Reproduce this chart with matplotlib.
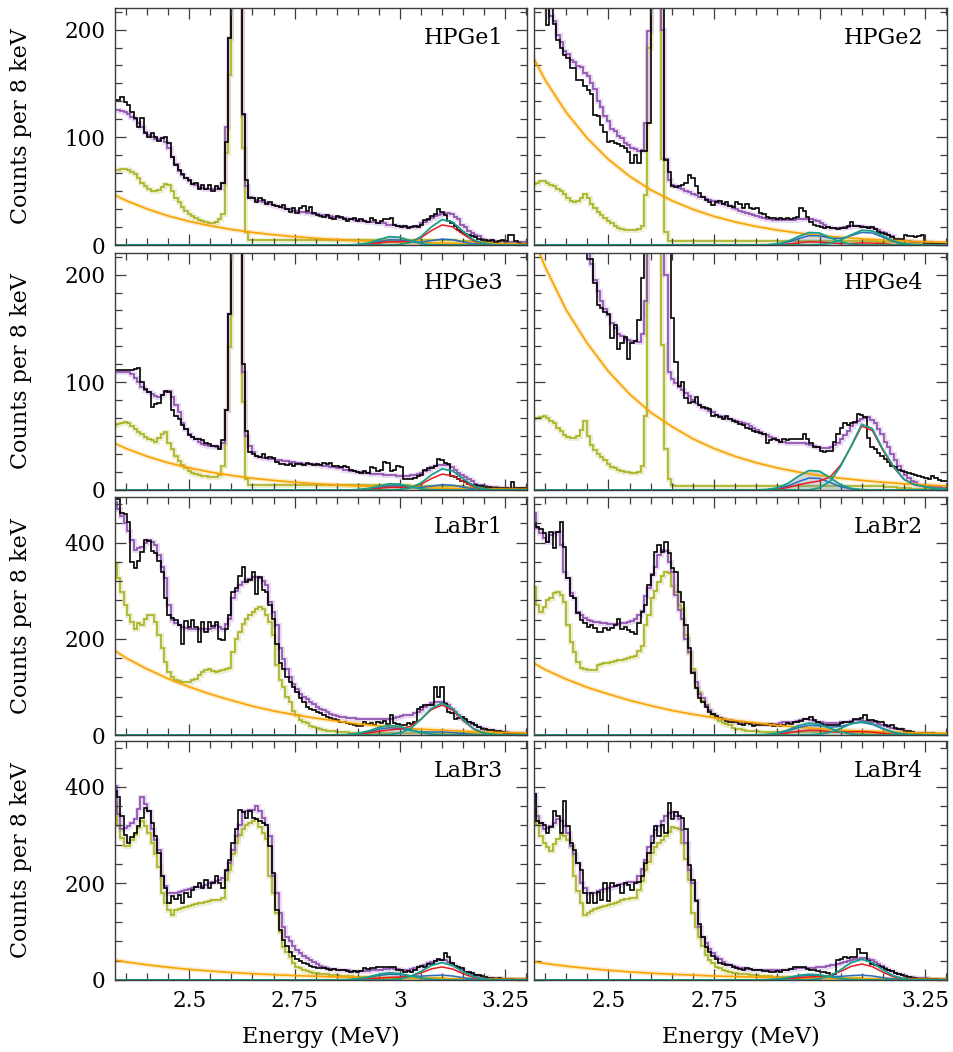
import numpy as np
import matplotlib
matplotlib.use("Agg")
import matplotlib.pyplot as plt
from matplotlib.ticker import MultipleLocator, FuncFormatter

# ---- binning (MeV) ----
EDGES = np.round(np.arange(2.320, 3.3045, 0.008), 3)             # 8 keV bins, 123 bins
BKG_E = np.round(np.arange(2.30, 3.3001, 0.05), 2)               # exponential background, 21 pts
PK_E = np.r_[2.30, np.round(np.arange(2.85, 3.3251, 0.025), 3)]  # peak components, 21 pts

# ---------------- HPGe1 ----------------
HPGE1_DATA = [
    135, 135, 137, 133, 130, 123, 118, 110, 118, 104,
    100, 104, 100, 97, 99, 100, 95, 82, 74, 70,
    66, 62, 60, 57, 58, 52, 56, 52, 56, 50,
    55, 52, 58, 96, 192, 800, 1500, 600, 122, 60,
    44, 44, 40, 44, 42, 38, 40, 37, 36, 35,
    37, 33, 31, 34, 30, 34, 36, 32, 35, 30,
    28, 27, 26, 28, 25, 24, 27, 26, 24, 22,
    24, 25, 22, 24, 22, 21, 25, 23, 20, 22,
    24, 24, 25, 19, 18, 17, 18, 16, 17, 18,
    17, 19, 23, 24, 27, 29, 33, 31, 28, 22,
    20, 18, 14, 12, 10, 9, 8, 7, 6, 5,
    5, 4, 5, 3, 4, 5, 4, 9, 9, 4,
    2, 1, 1]
HPGE1_FIT = [
    125, 125, 124, 123, 122, 119, 117, 113, 110, 105,
    102, 100, 98, 98, 99, 96, 90, 82, 75, 69,
    65, 62, 59, 57, 56, 54, 53, 52, 52, 52,
    52, 53, 58, 110, 192, 2000, 2000, 600, 121, 55,
    45, 44, 42, 41, 40, 39, 38, 37, 36, 35,
    34, 33, 33, 32, 32, 31, 31, 30, 30, 29,
    29, 28, 28, 27, 27, 26, 26, 25, 25, 24,
    24, 23, 23, 22, 22, 21, 21, 21, 20, 20,
    20, 19, 19, 19, 18, 18, 17, 17, 17, 17,
    18, 20, 21, 23, 25, 27, 28, 29, 30, 30,
    29, 26, 24, 19, 17, 13, 11, 9, 8, 6,
    5, 5, 4, 4, 3.5, 3.5, 3, 3, 3, 3,
    2.5, 2.5, 2.5]
HPGE1_COMP = [
    70, 70, 71, 71, 70, 68, 66, 62, 58, 55,
    52, 50, 50, 51, 54, 57, 56, 50, 44, 40,
    35, 32, 29, 27, 25, 23, 22, 21, 20, 20,
    21, 24, 29, 85, 158, 2000, 2000, 600, 90, 12,
    5, 5, 5, 5, 5, 5, 5, 5, 4.5, 4.5,
    4.5, 4.5, 4.5, 4.5, 4.5, 4.5, 4.5, 4.5, 4.5, 4.5,
    4.5, 4.5, 4.5, 4.5, 4.5, 4.5, 4.5, 4.5, 4.5, 4.5,
    4.5, 4.5, 4.5, 4.5, 4.5, 4.5, 4.5, 4.5, 4.5, 4.5,
    4.5, 4.5, 4.5, 4.5, 4.5, 4.5, 4.5, 4.5, 4.5, 4.5,
    4.5, 4.5, 4.5, 4.5, 4.5, 4.5, 4.5, 4.5, 4.5, 4.5,
    4.5, 4.5, 4, 4, 4, 3.5, 3.5, 3, 3, 2.5,
    2.5, 2, 2, 1.5, 1.5, 1.2, 1, 0.9, 0.8, 0.7,
    0.6, 0.5, 0.5]
HPGE1_BKG = [50.8, 41.2, 33.4, 27.0, 21.9, 17.8, 14.4, 11.7, 9.5, 7.7, 6.2,
             5.0, 4.1, 3.3, 2.7, 2.2, 1.8, 1.4, 1.2, 0.9, 0.8]
HPGE1_TEAL_LO = [0, 0, 0.06, 0.45, 1.9, 5.0, 7.7, 7.2, 4.0, 1.3, 0.3, 0.04, 0, 0, 0, 0, 0, 0, 0, 0, 0]
HPGE1_TEAL_HI = [0, 0, 0, 0, 0, 0, 0, 0.45, 2.3, 7.8, 16.8, 23.6, 21.4, 12.7, 4.8, 1.2, 0.2, 0.02, 0, 0, 0]
HPGE1_RED = [0, 0, 0.02, 0.17, 0.72, 1.86, 2.88, 3.06, 3.34, 6.69, 13.4, 18.6, 16.9, 10.1, 3.8, 0.95, 0.15, 0, 0, 0, 0]
HPGE1_BLUE = [0, 0, 0.04, 0.28, 1.2, 3.1, 4.8, 4.6, 3.0, 2.6, 4.05, 5.4, 4.9, 2.9, 1.1, 0.3, 0.04, 0, 0, 0, 0]

# ---------------- HPGe2 ----------------
HPGE2_DATA = [
    260, 260, 250, 240, 204, 240, 205, 190, 183, 176,
    174, 164, 164, 153, 153, 148, 144, 140, 121, 120,
    111, 105, 96, 97, 95, 94, 92, 90, 86, 76,
    84, 76, 87, 87, 113, 800, 1500, 700, 300, 79,
    68, 55, 54, 55, 56, 58, 65, 62, 55, 48,
    45, 42, 40, 37, 40, 41, 38, 40, 36, 35,
    40, 38, 34, 38, 34, 33, 34, 30, 29, 26,
    25, 25, 24, 25, 24, 25, 24, 25, 26, 34,
    32, 26, 21, 19, 18, 17, 16, 17, 16, 16,
    15, 16, 16, 18, 21, 18, 18, 17, 17, 16,
    17, 15, 12, 11, 10, 9, 7, 6, 6, 6,
    9, 8, 8, 7, 8, 9, 1, 1, 1, 1,
    1, 1, 1]
HPGE2_FIT = [
    242, 238, 236, 230, 225, 213, 208, 195, 188, 180,
    177, 172, 170, 166, 165, 160, 157, 150, 145, 134,
    128, 120, 115, 108, 106, 101, 99, 95, 93, 90,
    89, 87, 88, 113, 199, 2000, 2000, 700, 200, 80,
    60, 56, 55, 53, 52, 50, 49, 47, 46, 45,
    45, 43, 42, 41, 41, 39, 38, 37, 36, 34,
    33, 32, 31, 30, 29, 28, 27, 26, 25, 24,
    24, 23, 23, 23, 23, 23, 23, 23, 24, 24,
    24, 24, 24, 23, 22, 20, 19, 17, 16, 16,
    16, 16, 17, 17, 18, 18, 18, 18, 17, 17,
    16, 15, 14, 12, 11, 9, 8, 6, 5, 4.5,
    4, 3.5, 3, 3, 3, 3, 2.5, 2.5, 2, 2,
    2, 2, 2]
HPGE2_COMP = [
    57, 58, 59, 59, 58, 56, 55, 52, 50, 47,
    44, 41, 40, 41, 44, 47, 44, 38, 34, 31,
    28, 25, 22, 20, 18, 16, 15, 14, 14, 14,
    14, 15, 18, 46, 183, 2000, 2000, 600, 80, 12,
    4, 3.5, 3.5, 3.5, 3.5, 3.5, 3.5, 3.5, 3.5, 3.5,
    3.5, 3.5, 3.5, 3.5, 3.5, 3.5, 3.5, 3.5, 3.5, 3.5,
    3.5, 3.5, 3.5, 3.5, 3.5, 3.5, 3.5, 3.5, 3.5, 3.5,
    3.5, 3.5, 3.5, 3.5, 3.5, 3.5, 3.5, 3.5, 3.5, 3.5,
    3.5, 3.5, 3.5, 3.5, 3.5, 3.5, 3.5, 3.5, 3.5, 3.5,
    3.5, 3.5, 3.5, 3.5, 3.5, 3.5, 3.5, 3.5, 3.5, 3.5,
    3.5, 3.5, 3, 3, 3, 3, 2.5, 2.5, 2, 2,
    2, 2, 1.5, 1.5, 1.2, 1, 0.9, 0.8, 0.7, 0.6,
    0.5, 0.5, 0.4]
HPGE2_BKG = [190.6, 153, 123, 98.9, 79.4, 63.8, 51.2, 41.2, 33.1, 26.6, 21.4,
             17.2, 13.8, 11.1, 8.9, 7.1, 5.7, 4.6, 3.7, 3.0, 2.4]
HPGE2_TEAL_LO = [0, 0.02, 0.18, 1.0, 3.4, 7.9, 11.6, 11.1, 6.9, 2.8, 0.7, 0.1, 0, 0, 0, 0, 0, 0, 0, 0, 0]
HPGE2_TEAL_HI = [0, 0, 0, 0, 0, 0, 0.05, 0.3, 1.5, 4.5, 9.5, 13.6, 13.0, 8.5, 3.7, 1.1, 0.2, 0, 0, 0, 0]
HPGE2_RED = [0, 0, 0.05, 0.25, 0.85, 2.0, 2.9, 2.8, 1.9, 1.3, 1.5, 1.9, 1.8, 1.2, 0.5, 0.15, 0, 0, 0, 0, 0]
HPGE2_BLUE = [0, 0, 0.14, 0.75, 2.6, 5.9, 8.7, 8.6, 6.5, 6.0, 8.7, 11.7, 11.1, 7.3, 3.2, 0.9, 0.2, 0, 0, 0, 0]

# ---------------- HPGe3 ----------------
HPGE3_DATA = [
    111, 111, 111, 111, 111, 111, 112, 113, 100, 94,
    91, 77, 80, 81, 88, 92, 91, 74, 69, 66,
    60, 57, 51, 49, 47, 47, 46, 44, 43, 41,
    41, 38, 46, 74, 163, 900, 1500, 700, 117, 55,
    35, 33, 32, 31, 33, 30, 31, 30, 26, 24,
    24, 23, 24, 22, 24, 24, 23, 25, 24, 23,
    24, 23, 25, 24, 25, 22, 22, 21, 22, 21,
    19, 18, 17, 16, 18, 16, 21, 20, 18, 19,
    26, 25, 18, 19, 22, 21, 10, 10, 10, 11,
    13, 14, 19, 20, 20, 22, 29, 28, 25, 24,
    13, 12, 10, 8, 7, 6, 5, 5, 4, 4,
    3, 3, 2, 2, 2, 2, 2, 1, 7, 2,
    2, 2, 2]
HPGE3_FIT = [
    110, 110, 110, 110, 110, 108, 104, 100, 96, 93,
    91, 89, 87, 86, 88, 91, 92, 86, 79, 72,
    62, 57, 52, 49, 47, 45, 43, 42, 41, 41,
    40, 40, 44, 74, 163, 2000, 2000, 600, 110, 50,
    41, 35, 32, 31, 30, 30, 29, 29, 28, 28,
    27, 27, 26, 26, 25, 25, 24, 24, 24, 24,
    23, 23, 22, 22, 21, 21, 20, 20, 19, 19,
    18, 18, 17, 17, 16, 16, 15, 15, 15, 15,
    14, 14, 14, 14, 13, 13, 13, 13, 14, 14,
    15, 16, 18, 19, 21, 22, 23, 23, 23, 23,
    21, 19, 16, 14, 12, 10, 8, 6, 5, 4.5,
    4, 3, 2.5, 2.5, 2, 2, 2, 2, 1.5, 1.5,
    1.5, 1.5, 1.5]
HPGE3_COMP = [
    60, 61, 62, 63, 62, 59, 57, 54, 52, 49,
    47, 46, 45, 48, 52, 54, 44, 38, 32, 27,
    23, 20, 18, 16, 15, 14, 13, 13, 12, 12,
    12, 14, 22, 74, 133, 2000, 2000, 600, 82, 10,
    5, 5, 4.5, 4.5, 4.5, 4.5, 4.5, 4.5, 4.5, 4.5,
    4.5, 4.5, 4.5, 4.5, 4.5, 4.5, 4.5, 4.5, 4.5, 4.5,
    4.5, 4.5, 4.5, 4.5, 4.5, 4.5, 4.5, 4.5, 4.5, 4.5,
    4.5, 4.5, 4.5, 4.5, 4.5, 4.5, 4.5, 4.5, 4.5, 4.5,
    4.5, 4.5, 4.5, 4.5, 4.5, 4.5, 4.5, 4.5, 4, 4,
    4, 4, 4, 4, 4, 4, 4, 4, 4, 4,
    4, 4, 3.5, 3.5, 3, 3, 2.5, 2.5, 2, 2,
    1.5, 1.5, 1.2, 1.2, 1, 1, 0.8, 0.8, 0.7, 0.7,
    0.6, 0.5, 0.5]
HPGE3_BKG = [47.5, 38.5, 31.2, 25.2, 20.5, 16.6, 13.5, 10.9, 8.9, 7.2, 5.8,
             4.7, 3.8, 3.1, 2.5, 2.1, 1.7, 1.3, 1.1, 0.8, 0.7]
HPGE3_TEAL_LO = [0, 0, 0.05, 0.34, 1.4, 3.7, 5.8, 5.4, 3.0, 1.0, 0.24, 0.03, 0, 0, 0, 0, 0, 0, 0, 0, 0]
HPGE3_TEAL_HI = [0, 0, 0, 0, 0, 0, 0, 0.38, 1.9, 6.5, 14, 19.6, 17.8, 10.6, 4.0, 1.0, 0.16, 0, 0, 0, 0]
HPGE3_RED = [0, 0, 0.02, 0.14, 0.6, 1.6, 2.4, 2.5, 2.7, 5.3, 10.6, 14.7, 13.4, 8.0, 3.0, 0.8, 0.1, 0, 0, 0, 0]
HPGE3_BLUE = [0, 0, 0.03, 0.2, 1.0, 2.5, 3.8, 3.7, 2.5, 2.3, 3.7, 4.9, 4.5, 2.7, 1.0, 0.25, 0.04, 0, 0, 0, 0]

# ---------------- HPGe4 ----------------
HPGE4_DATA = [
    300, 300, 290, 290, 280, 280, 270, 260, 260, 250,
    250, 240, 240, 235, 230, 225, 214, 214, 192, 172,
    169, 165, 163, 141, 153, 131, 136, 142, 122, 136,
    138, 158, 197, 250, 400, 800, 1500, 800, 500, 300,
    230, 160, 119, 97, 100, 85, 81, 82, 86, 79,
    77, 76, 75, 69, 70, 68, 66, 69, 66, 64,
    63, 61, 60, 58, 57, 55, 54, 53, 52, 44,
    46, 47, 46, 45, 47, 46, 47, 47, 47, 47,
    52, 47, 44, 40, 40, 36, 35, 36, 36, 45,
    52, 58, 62, 60, 62, 63, 71, 70, 68, 48,
    40, 38, 34, 32, 29, 26, 22, 21, 19, 18,
    17, 16, 15, 14, 13, 12, 11, 10, 13, 11,
    9, 8, 8]
HPGE4_FIT = [
    410, 400, 390, 380, 370, 360, 350, 340, 330, 320,
    310, 300, 290, 280, 265, 250, 230, 210, 195, 185,
    175, 168, 162, 155, 150, 145, 143, 140, 139, 138,
    138, 137, 145, 175, 400, 3000, 3000, 800, 400, 200,
    110, 103, 99, 96, 93, 90, 87, 84, 81, 79,
    76, 75, 73, 72, 70, 69, 68, 67, 66, 65,
    64, 63, 62, 61, 59, 58, 56, 54, 52, 51,
    49, 48, 46, 45, 45, 44, 44, 44, 44, 44,
    44, 43, 42, 41, 40, 39, 39, 39, 40, 42,
    44, 47, 51, 55, 59, 62, 64, 66, 67, 68,
    65, 62, 57, 52, 45, 40, 33, 28, 22, 18,
    14, 11, 8, 7, 5, 4.5, 4, 3.5, 3, 3,
    2.5, 2, 2]
HPGE4_COMP = [
    66, 67, 68, 69, 67, 64, 62, 58, 55, 51,
    49, 48, 48, 50, 56, 64, 50, 42, 37, 33,
    31, 28, 24, 21, 20, 19, 18, 17, 17, 16,
    16, 17, 22, 69, 400, 3000, 3000, 800, 135, 38,
    10, 5, 4, 4, 4, 4, 4, 4, 4, 4,
    4, 4, 4, 4, 4, 4, 4, 4, 4, 4,
    4, 4, 4, 4, 4, 4, 4, 4, 4, 4,
    4, 4, 4, 4, 4, 4, 4, 4, 4, 4,
    4, 4, 4, 4, 4, 4, 4, 4, 4, 4,
    4, 4, 4, 4, 4, 4, 4, 4, 4, 4,
    4, 4, 3.5, 3.5, 3, 3, 2.5, 2.5, 2, 2,
    1.5, 1.5, 1.2, 1, 1, 0.9, 0.8, 0.7, 0.6, 0.6,
    0.5, 0.5, 0.5]
HPGE4_BKG = [255, 207, 167, 136, 110, 89, 72, 59, 47.5, 38.5, 31.2,
             25.3, 20.5, 16.6, 13.5, 10.9, 8.9, 7.2, 5.8, 4.7, 3.8]
HPGE4_TEAL_LO = [0, 0.06, 0.43, 2.0, 6.1, 12.8, 18.1, 17.4, 11.4, 5.0, 1.5, 0.3, 0.05, 0, 0, 0, 0, 0, 0, 0, 0]
HPGE4_TEAL_HI = [0, 0, 0, 0, 0, 0, 0, 2, 8, 22, 41, 61, 57, 38, 22, 10, 5, 3, 1.5, 1, 0.5]
HPGE4_RED = [0, 0, 0.16, 0.7, 2.3, 4.8, 6.8, 8.4, 12, 23.2, 40.4, 59.3, 55.3, 36.9, 21.3, 9.7, 4.9, 2.9, 1.5, 1.0, 0.5]
HPGE4_BLUE = [0, 0.04, 0.26, 1.2, 3.7, 7.8, 11.1, 10.7, 7.0, 3.1, 0.9, 0.2, 0, 0, 0, 0, 0, 0, 0, 0, 0]

# ---------------- LaBr1 ----------------
LABR1_DATA = [
    495, 490, 462, 460, 444, 360, 348, 362, 380, 406,
    404, 383, 378, 362, 340, 285, 250, 244, 240, 228,
    190, 238, 225, 239, 225, 194, 235, 215, 235, 226,
    234, 200, 198, 221, 249, 298, 305, 330, 350, 319,
    322, 340, 294, 329, 301, 298, 270, 242, 190, 150,
    138, 121, 110, 100, 90, 76, 69, 58, 55, 51,
    48, 45, 41, 37, 35, 33, 31, 27, 26, 24,
    22, 20, 18, 19, 27, 22, 25, 20, 28, 24,
    30, 22, 41, 25, 22, 20, 20, 24, 22, 27,
    55, 58, 62, 62, 62, 100, 80, 100, 65, 48,
    45, 34, 35, 37, 34, 27, 25, 20, 17, 13,
    12, 10, 10, 8, 8, 6, 5, 4, 4, 3,
    2, 2, 1]
LABR1_FIT = [
    485, 470, 455, 440, 425, 405, 385, 388, 392, 400,
    406, 402, 396, 374, 350, 326, 270, 239, 232, 228,
    225, 222, 221, 221, 221, 221, 221, 221, 221, 223,
    228, 225, 221, 230, 242, 284, 300, 312, 318, 322,
    325, 328, 329, 326, 320, 312, 277, 255, 228, 180,
    158, 138, 120, 107, 96, 86, 80, 74, 69, 64,
    59, 55, 51, 47, 44, 42, 40, 38, 37, 36,
    35, 35, 34, 34, 34, 34, 34, 34, 34, 34,
    34, 34, 34, 35, 37, 39, 41, 41, 41, 45,
    48, 53, 58, 62, 66, 69, 69, 69, 66, 62,
    55, 48, 42, 36, 30, 26, 23, 20, 17, 14,
    12, 11, 10, 9, 8, 7, 6, 5, 5, 5,
    4, 4, 3]
LABR1_COMP = [
    357, 326, 298, 270, 249, 235, 221, 232, 228, 242,
    249, 249, 235, 208, 180, 152, 131, 121, 114, 112,
    111, 110, 110, 114, 117, 125, 131, 135, 138, 134,
    132, 134, 136, 138, 140, 173, 200, 215, 230, 242,
    250, 256, 262, 267, 262, 250, 235, 208, 145, 115,
    100, 80, 69, 50, 41, 32, 27, 24, 19, 16,
    14, 12, 10, 9, 8, 8, 7, 7, 6, 6,
    5, 5, 5, 5, 5, 5, 5, 5, 5, 5,
    5, 5, 5, 5, 5, 5, 5, 5, 5, 5,
    5, 5, 5, 5, 5, 5, 5, 5, 5, 5,
    5, 5, 5, 5, 5, 5, 5, 5, 5, 5,
    4.5, 4.5, 4, 4, 3.5, 3.5, 3, 3, 2.5, 2.5,
    2, 2, 2]
LABR1_BKG = [189, 160, 137, 117, 100, 85, 72, 60, 50, 42, 35,
             29, 23, 19, 15, 12, 10, 8, 6, 5, 4]
LABR1_TEAL_LO = [0, 0.16, 0.9, 3.2, 8.4, 15.6, 19.8, 17.8, 11.2, 5.0, 1.6, 0.3, 0.06, 0, 0, 0, 0, 0, 0, 0, 0]
LABR1_TEAL_HI = [0, 0, 0, 0, 0, 0, 0.8, 3.9, 13.2, 32.3, 55.4, 66, 55.4, 32.3, 13.2, 3.9, 0.8, 0.1, 0, 0, 0]
LABR1_RED = [0, 0.08, 0.44, 1.6, 4.2, 7.8, 10.6, 12.6, 18, 32.9, 52.8, 62.2, 52.1, 30.4, 12.4, 3.7, 0.7, 0.1, 0, 0, 0]
LABR1_BLUE = [0, 0.12, 0.66, 2.4, 6.3, 11.7, 15, 13.7, 9.6, 6.7, 6.2, 6.3, 5.0, 2.9, 1.2, 0.35, 0.07, 0, 0, 0, 0]

# ---------------- LaBr2 ----------------
LABR2_DATA = [
    440, 432, 428, 420, 402, 423, 388, 423, 444, 392,
    326, 290, 284, 253, 240, 232, 225, 228, 222, 215,
    215, 222, 218, 222, 228, 242, 220, 224, 218, 215,
    210, 232, 256, 270, 312, 333, 381, 395, 380, 402,
    378, 347, 340, 298, 277, 228, 180, 128, 97, 76,
    69, 58, 48, 44, 40, 36, 34, 30, 27, 26,
    27, 22, 20, 24, 22, 19, 21, 20, 21, 20,
    22, 19, 20, 18, 20, 24, 22, 26, 27, 30,
    34, 34, 37, 31, 27, 22, 20, 20, 21, 20,
    21, 24, 27, 26, 28, 34, 33, 36, 41, 32,
    31, 29, 27, 26, 21, 19, 20, 15, 12, 12,
    9, 8, 7, 5, 5, 4, 4, 3, 4, 3,
    2, 2, 2]
LABR2_FIT = [
    461, 430, 420, 409, 402, 416, 420, 423, 395, 340,
    326, 295, 284, 255, 249, 244, 240, 238, 236, 234,
    232, 232, 230, 230, 230, 231, 232, 232, 235, 238,
    242, 250, 258, 290, 305, 335, 350, 375, 385, 382,
    360, 340, 291, 260, 242, 200, 173, 130, 110, 85,
    76, 62, 52, 44, 40, 36, 34, 32, 31, 28,
    27, 26, 25, 24, 24, 23, 23, 22, 22, 22,
    22, 22, 23, 25, 26, 27, 28, 28, 30, 32,
    33, 34, 32, 30, 28, 27, 25, 24, 24, 24,
    25, 26, 27, 28, 30, 31, 31, 31, 30, 29,
    28, 26, 23, 21, 19, 17, 15, 13, 12, 10,
    8, 7, 6, 5, 5, 4, 4, 3.5, 3.5, 3,
    3, 3, 2.5]
LABR2_COMP = [
    308, 270, 256, 267, 280, 284, 295, 298, 291, 277,
    228, 194, 173, 152, 140, 138, 136, 135, 136, 145,
    148, 150, 150, 152, 154, 156, 157, 158, 160, 163,
    165, 175, 185, 228, 250, 284, 300, 319, 330, 340,
    337, 310, 298, 270, 263, 208, 170, 138, 100, 90,
    70, 62, 50, 41, 36, 30, 25, 22, 20, 15,
    13, 12, 11, 9, 9, 8, 8, 7, 6, 6,
    6, 6, 6, 6, 6, 6, 6, 6, 6, 6,
    6, 6, 6, 6, 6, 6, 6, 6, 6, 6,
    6, 6, 6, 5, 5, 5, 5, 5, 4, 4,
    4, 4, 4, 4, 4, 4, 3.5, 3.5, 3, 3,
    3, 3, 2.5, 2.5, 2.5, 2, 2, 2, 2, 2,
    2, 2, 2]
LABR2_BKG = [161, 136, 116, 99, 85, 72, 61, 51, 43, 36, 30,
             25, 20, 16, 13, 10, 8.5, 7, 5, 4, 3.4]
LABR2_TEAL_LO = [0, 0.2, 1.1, 4, 10.5, 19.5, 24.8, 22.3, 14, 6.3, 2, 0.4, 0.08, 0, 0, 0, 0, 0, 0, 0, 0]
LABR2_TEAL_HI = [0, 0, 0, 0, 0, 0, 0.3, 1.7, 5.6, 13.7, 23.5, 28, 23.5, 13.7, 5.6, 1.7, 0.3, 0.05, 0, 0, 0]
LABR2_RED = [0, 0.08, 0.44, 1.6, 4.2, 7.8, 10.0, 9.3, 7.0, 5.9, 6.7, 7.2, 5.9, 3.4, 1.4, 0.4, 0.1, 0, 0, 0, 0]
LABR2_BLUE = [0, 0.16, 0.9, 3.2, 8.4, 15.6, 20.1, 19.3, 16.4, 17.7, 23.4, 26.3, 21.9, 12.7, 5.2, 1.5, 0.3, 0, 0, 0, 0]

# ---------------- LaBr3 ----------------
LABR3_DATA = [
    392, 378, 340, 300, 284, 296, 305, 318, 336, 357,
    350, 326, 298, 263, 215, 190, 160, 173, 168, 176,
    160, 180, 172, 187, 192, 201, 190, 208, 190, 200,
    215, 200, 190, 228, 249, 284, 312, 353, 347, 336,
    350, 336, 333, 329, 326, 322, 277, 222, 145, 103,
    83, 70, 58, 50, 44, 40, 36, 34, 28, 27,
    25, 24, 24, 22, 21, 22, 20, 21, 20, 18,
    17, 18, 17, 19, 24, 22, 24, 25, 27, 26,
    27, 27, 27, 26, 20, 20, 17, 18, 17, 20,
    27, 28, 27, 34, 34, 40, 44, 42, 55, 48,
    35, 28, 27, 25, 17, 16, 14, 10, 10, 8,
    6, 5, 4, 3, 4, 3, 3, 2, 2, 1,
    1, 1, 1]
LABR3_FIT = [
    402, 343, 312, 315, 319, 325, 333, 355, 378, 365,
    350, 312, 290, 270, 215, 195, 180, 180, 181, 182,
    184, 186, 188, 190, 192, 193, 194, 197, 201, 203,
    205, 208, 212, 225, 242, 270, 298, 320, 347, 350,
    352, 353, 361, 350, 336, 320, 298, 215, 180, 138,
    110, 90, 80, 70, 62, 56, 50, 45, 41, 37,
    33, 30, 27, 25, 23, 22, 21, 20, 20, 20,
    19, 19, 19, 19, 19, 19, 20, 20, 20, 21,
    22, 23, 24, 23, 22, 21, 20, 21, 23, 25,
    27, 29, 32, 35, 37, 39, 41, 42, 42, 38,
    34, 30, 25, 20, 17, 14, 12, 10, 8, 7,
    6, 5, 5, 4, 4, 3, 3, 2, 2, 2,
    1.5, 1.5, 1.5]
LABR3_COMP = [
    367, 319, 295, 277, 277, 290, 301, 315, 330, 318,
    305, 284, 260, 235, 180, 160, 145, 135, 145, 148,
    150, 152, 154, 156, 158, 159, 160, 162, 164, 166,
    166, 166, 170, 208, 228, 260, 284, 300, 312, 320,
    326, 330, 333, 316, 305, 291, 215, 180, 138, 100,
    69, 58, 48, 36, 27, 24, 21, 19, 17, 15,
    14, 13, 12, 12, 11, 10, 10, 9, 8, 8,
    8, 7, 7, 7, 6, 6, 6, 6, 5, 5,
    5, 5, 5, 5, 5, 5, 5, 5, 5, 5,
    5, 5, 5, 5, 5, 4, 4, 4, 3, 3,
    3, 3, 3, 3, 3, 3, 3, 3, 3, 3,
    3, 3, 3, 2.5, 2.5, 2.5, 2, 2, 2, 2,
    2, 2, 2]
LABR3_BKG = [44.6, 37.4, 31.4, 26.3, 22, 18.5, 15.5, 13, 10.9, 9.1, 7.7,
             6.4, 5.4, 4.5, 3.8, 3.2, 2.7, 2.2, 1.9, 1.6, 1.3]
LABR3_TEAL_LO = [0, 0.12, 0.66, 2.4, 6.3, 11.7, 14.9, 13.4, 8.4, 3.8, 1.2, 0.26, 0.05, 0, 0, 0, 0, 0, 0, 0, 0]
LABR3_TEAL_HI = [0, 0, 0, 0, 0, 0, 0.4, 2.1, 7.2, 17.6, 30.2, 36, 30.2, 17.6, 7.2, 2.1, 0.4, 0.06, 0, 0, 0]
LABR3_RED = [0, 0.04, 0.22, 0.8, 2.1, 3.9, 5.3, 6.0, 8.2, 14.5, 23.1, 27.1, 22.7, 13.2, 5.4, 1.6, 0.3, 0, 0, 0, 0]
LABR3_BLUE = [0, 0.1, 0.5, 1.9, 5.0, 9.4, 12.0, 11.3, 8.7, 7.9, 9.3, 10.2, 8.4, 4.9, 2.0, 0.6, 0.1, 0, 0, 0, 0]

# ---------------- LaBr4 ----------------
LABR4_DATA = [
    385, 330, 326, 320, 305, 316, 350, 340, 305, 371,
    319, 284, 270, 242, 228, 180, 159, 180, 159, 183,
    166, 201, 163, 201, 194, 197, 180, 200, 197, 187,
    200, 204, 215, 242, 263, 284, 319, 298, 322, 305,
    367, 333, 347, 340, 336, 312, 239, 208, 163, 117,
    90, 69, 58, 50, 44, 36, 34, 31, 31, 27,
    25, 22, 20, 24, 22, 20, 21, 20, 18, 19,
    17, 17, 18, 17, 20, 20, 22, 27, 27, 27,
    26, 22, 20, 20, 18, 17, 17, 14, 10, 12,
    41, 44, 48, 46, 48, 48, 65, 55, 55, 40,
    34, 31, 29, 27, 22, 20, 19, 14, 12, 11,
    8, 6, 5, 4, 3, 3, 2, 2, 2, 2,
    1, 1, 1]
LABR4_FIT = [
    385, 340, 325, 312, 315, 319, 326, 333, 330, 318,
    305, 277, 260, 242, 201, 190, 180, 180, 180, 184,
    187, 189, 191, 193, 194, 197, 199, 200, 202, 203,
    204, 215, 230, 249, 275, 298, 310, 319, 330, 340,
    345, 347, 340, 333, 310, 284, 228, 200, 166, 110,
    90, 76, 65, 56, 48, 43, 38, 34, 31, 29,
    27, 25, 24, 23, 22, 21, 21, 20, 20, 20,
    20, 20, 20, 20, 20, 21, 22, 23, 24, 24,
    24, 24, 24, 25, 26, 26, 27, 29, 31, 32,
    34, 36, 38, 40, 41, 43, 44, 45, 46, 44,
    41, 37, 33, 29, 24, 21, 18, 15, 13, 10,
    8, 7, 6, 5, 4, 4, 3.5, 3, 3, 2.5,
    2, 2, 2]
LABR4_COMP = [
    347, 320, 298, 284, 275, 267, 281, 292, 301, 298,
    290, 277, 215, 185, 159, 135, 138, 142, 147, 150,
    152, 154, 156, 158, 160, 162, 166, 167, 168, 169,
    170, 187, 205, 228, 245, 263, 275, 284, 290, 298,
    306, 316, 315, 312, 284, 250, 208, 138, 110, 90,
    70, 51, 42, 35, 27, 24, 21, 19, 17, 15,
    14, 13, 12, 12, 11, 10, 10, 9, 8, 8,
    8, 7, 7, 7, 6, 6, 6, 6, 5, 5,
    5, 5, 5, 5, 5, 5, 5, 5, 5, 5,
    5, 5, 5, 5, 5, 4, 4, 4, 3, 3,
    3, 3, 3, 3, 3, 3, 3, 3, 3, 3,
    3, 3, 3, 2.5, 2.5, 2.5, 2, 2, 2, 2,
    2, 2, 2]
LABR4_BKG = [40.8, 34.2, 28.7, 24.1, 20.1, 16.9, 14.2, 11.9, 10.0, 8.3, 7.0,
             5.9, 4.9, 4.1, 3.5, 2.9, 2.5, 2.0, 1.7, 1.5, 1.2]
LABR4_TEAL_LO = [0, 0.1, 0.5, 1.9, 5.0, 9.4, 11.9, 10.7, 6.7, 3.0, 0.9, 0.2, 0.04, 0, 0, 0, 0, 0, 0, 0, 0]
LABR4_TEAL_HI = [0, 0, 0, 0, 0, 0, 0.5, 2.5, 8.6, 21.1, 36.1, 43, 36.1, 21.1, 8.6, 2.5, 0.5, 0.07, 0, 0, 0]
LABR4_RED = [0, 0.05, 0.26, 1.0, 2.5, 4.7, 6.3, 7.3, 10, 17.7, 28.2, 33.1, 27.7, 16.2, 6.6, 1.9, 0.4, 0, 0, 0, 0]
LABR4_BLUE = [0, 0.08, 0.44, 1.6, 4.2, 7.8, 10.0, 9.5, 7.6, 7.4, 9.2, 10.2, 8.4, 4.9, 2.0, 0.6, 0.1, 0, 0, 0, 0]

PANELS = [
    ("HPGe1", HPGE1_DATA, HPGE1_FIT, HPGE1_COMP, HPGE1_BKG, HPGE1_TEAL_LO, HPGE1_TEAL_HI, HPGE1_RED, HPGE1_BLUE),
    ("HPGe2", HPGE2_DATA, HPGE2_FIT, HPGE2_COMP, HPGE2_BKG, HPGE2_TEAL_LO, HPGE2_TEAL_HI, HPGE2_RED, HPGE2_BLUE),
    ("HPGe3", HPGE3_DATA, HPGE3_FIT, HPGE3_COMP, HPGE3_BKG, HPGE3_TEAL_LO, HPGE3_TEAL_HI, HPGE3_RED, HPGE3_BLUE),
    ("HPGe4", HPGE4_DATA, HPGE4_FIT, HPGE4_COMP, HPGE4_BKG, HPGE4_TEAL_LO, HPGE4_TEAL_HI, HPGE4_RED, HPGE4_BLUE),
    ("LaBr1", LABR1_DATA, LABR1_FIT, LABR1_COMP, LABR1_BKG, LABR1_TEAL_LO, LABR1_TEAL_HI, LABR1_RED, LABR1_BLUE),
    ("LaBr2", LABR2_DATA, LABR2_FIT, LABR2_COMP, LABR2_BKG, LABR2_TEAL_LO, LABR2_TEAL_HI, LABR2_RED, LABR2_BLUE),
    ("LaBr3", LABR3_DATA, LABR3_FIT, LABR3_COMP, LABR3_BKG, LABR3_TEAL_LO, LABR3_TEAL_HI, LABR3_RED, LABR3_BLUE),
    ("LaBr4", LABR4_DATA, LABR4_FIT, LABR4_COMP, LABR4_BKG, LABR4_TEAL_LO, LABR4_TEAL_HI, LABR4_RED, LABR4_BLUE),
]

C_DATA = "black"
C_FIT = "#8c4db0"
C_COMP = "#a2ad14"
C_BKG = "#f8a300"
C_TEAL = "#17a08a"
C_RED = "#e8191f"
C_BLUE = "#2a6cc0"
C_FILL = "#7f93ad"
C_SPINE = "#3c3c3c"

plt.rcParams["font.family"] = "DejaVu Serif"

W, H = 954, 1052
fig = plt.figure(figsize=(W / 100, H / 100), dpi=100)

COLS = [(115, 412), (534, 413)]
ROWS = [(8, 245), (253, 490), (497, 735), (741, 980)]


def draw_panel(ax, label, data, fit, comp, bkg, teal_lo, teal_hi, red, blue):
    # soft uncertainty bands
    ax.stairs(fit, EDGES, baseline=None, color=C_FIT, lw=3.5, alpha=0.2)
    ax.stairs(comp, EDGES, baseline=None, color=C_COMP, lw=3.5, alpha=0.2)
    ax.plot(BKG_E, bkg, color=C_BKG, lw=3.5, alpha=0.2)

    ax.plot(BKG_E, bkg, color=C_BKG, lw=1.2)
    ax.stairs(comp, EDGES, baseline=None, color=C_COMP, lw=1.1)

    ax.fill_between(PK_E, 0, teal_lo, color=C_FILL, alpha=0.35, lw=0)
    ax.plot(PK_E, blue, color=C_BLUE, lw=1.1)
    ax.plot(PK_E, red, color=C_RED, lw=1.1)
    ax.plot(PK_E, teal_lo, color=C_TEAL, lw=1.3)
    ax.plot(PK_E, teal_hi, color=C_TEAL, lw=1.3)

    ax.stairs(fit, EDGES, baseline=None, color=C_FIT, lw=1.2)
    ax.stairs(data, EDGES, baseline=None, color=C_DATA, lw=1.2)

    ax.text(0.942, 0.848, label, transform=ax.transAxes, ha="right",
            va="baseline", fontsize=16)


for k, panel in enumerate(PANELS):
    r, c = divmod(k, 2)
    x0, w = COLS[c]
    top, bot = ROWS[r]
    ax = fig.add_axes([x0 / W, 1 - bot / H, w / W, (bot - top) / H])
    draw_panel(ax, *panel)

    ax.set_xlim(2.3235, 3.302)
    ax.xaxis.set_major_locator(MultipleLocator(0.25))
    ax.xaxis.set_minor_locator(MultipleLocator(0.05))
    ax.xaxis.set_major_formatter(FuncFormatter(lambda v, p: f"{v:g}"))
    if r < 2:
        ax.set_ylim(0, 220)
        ax.yaxis.set_major_locator(MultipleLocator(100))
        ax.yaxis.set_minor_locator(MultipleLocator(100 / 6))
    else:
        ax.set_ylim(0, 495)
        ax.yaxis.set_major_locator(MultipleLocator(200))
        ax.yaxis.set_minor_locator(MultipleLocator(40))

    ax.tick_params(which="both", direction="in", top=True, right=True,
                   color=C_SPINE, width=0.9, labelsize=15.5)
    ax.tick_params(which="major", length=8, pad=7)
    ax.tick_params(which="minor", length=5)
    ax.tick_params(labelleft=(c == 0), labelbottom=(r == 3))
    for s in ax.spines.values():
        s.set_color(C_SPINE)
        s.set_linewidth(1.0)

    if c == 0:
        yc = 1 - (top + bot) / 2 / H
        fig.text(21 / W, yc, "Counts per 8 keV", rotation=90, ha="center",
                 va="center", fontsize=16)
    if r == 3:
        fig.text((x0 + w / 2) / W, 1 - 1037 / H, "Energy (MeV)", ha="center",
                 va="center", fontsize=16)

fig.savefig("out.png", dpi=100)
